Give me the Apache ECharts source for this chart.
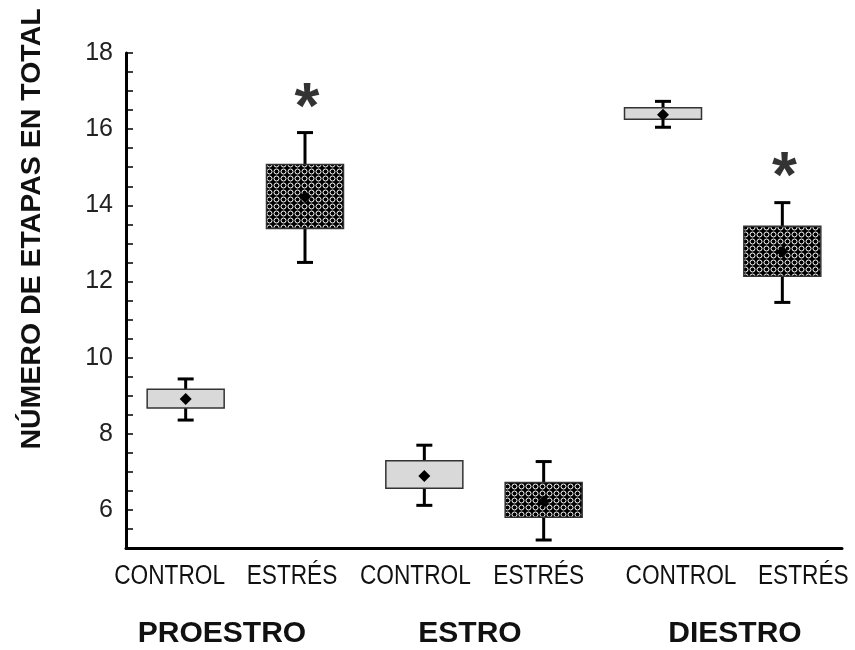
<!DOCTYPE html>
<html>
<head>
<meta charset="utf-8">
<script src="https://cdn.jsdelivr.net/npm/echarts@6/dist/echarts.min.js"></script>
<style>
html,body{margin:0;padding:0;background:#fff;}
#chart{width:855px;height:650px;}
</style>
</head>
<body>
<div id="chart"></div>
<script>
// ---- data ----
const categories = ['CONTROL', 'ESTRÉS', 'CONTROL', 'ESTRÉS', 'CONTROL', 'ESTRÉS'];
const groups = ['PROESTRO', 'ESTRO', 'DIESTRO'];
const whiskerLow  = [8.36, 12.50, 6.12, 5.21, 16.05, 11.45];
const boxLow      = [8.68, 13.39, 6.57, 5.81, 16.26, 12.14];
const means       = [8.91, 14.22, 6.89, 6.22, 16.38, 12.78];
const boxHigh     = [9.17, 15.07, 7.29, 6.72, 16.56, 13.45];
const whiskerHigh = [9.44, 15.91, 7.70, 7.27, 16.73, 14.07];
const asteriskAt  = [null, 16.85, null, null, null, 15.05];
const yTickLabels = [6, 8, 10, 12, 14, 16, 18];
const yTitle = 'NÚMERO DE ETAPAS EN TOTAL';

// ---- styles ----
const labelShift = [-16, -13, -9, -5, 18, 21];   // horizontal nudge of category labels (px)

function makePattern() {
  const c = document.createElement('canvas');
  c.width = 7; c.height = 7;
  const g = c.getContext('2d');
  g.fillStyle = '#000';
  g.fillRect(0, 0, 7, 7);
  g.strokeStyle = '#fff';
  g.lineWidth = 1;
  g.beginPath();
  g.arc(3.5, 3.5, 2.5, 0, Math.PI * 2);
  g.stroke();
  return c;
}
const stressFill = { image: makePattern(), repeat: 'repeat' };
const controlFill = '#d9d9d9';

const boxData = categories.map((c, i) => [i, whiskerLow[i], boxLow[i], means[i], boxHigh[i], whiskerHigh[i]]);
const labelData = categories.map((c, i) => [i, 5]);
const starData = [];
asteriskAt.forEach((v, i) => { if (v != null) starData.push([i, v]); });

function renderBox(params, api) {
  const i = api.value(0);
  const wl = api.coord([i, api.value(1)]);
  const bl = api.coord([i, api.value(2)]);
  const m  = api.coord([i, api.value(3)]);
  const bh = api.coord([i, api.value(4)]);
  const wh = api.coord([i, api.value(5)]);
  const x = wl[0];
  const bw = 77;
  const cap = 16;
  const isStress = i % 2 === 1;
  const lineStyle = { stroke: '#000', lineWidth: 3 };
  const d = 6;
  return {
    type: 'group',
    children: [
      { type: 'line', shape: { x1: x, y1: wl[1], x2: x, y2: wh[1] }, style: lineStyle },
      { type: 'line', shape: { x1: x - cap / 2, y1: wl[1], x2: x + cap / 2, y2: wl[1] }, style: lineStyle },
      { type: 'line', shape: { x1: x - cap / 2, y1: wh[1], x2: x + cap / 2, y2: wh[1] }, style: lineStyle },
      { type: 'rect', shape: { x: x - bw / 2, y: bh[1], width: bw, height: bl[1] - bh[1] },
        style: { fill: isStress ? stressFill : controlFill, stroke: '#333', lineWidth: 1.5 } },
      { type: 'polygon', shape: { points: [[x, m[1] - d], [x + d, m[1]], [x, m[1] + d], [x - d, m[1]]] },
        style: { fill: '#000' } }
    ]
  };
}

function renderLabel(params, api) {
  const i = api.value(0);
  const p = api.coord([i, api.value(1)]);
  return {
    type: 'text',
    x: p[0] + labelShift[i],
    y: p[1] + 29,
    scaleX: 0.84,
    style: { text: categories[i], fontFamily: 'Liberation Sans', fontSize: 27, fill: '#111',
             textAlign: 'center', textVerticalAlign: 'middle' }
  };
}

const chart = echarts.init(document.getElementById('chart'), null, { renderer: 'canvas' });
chart.setOption({
  animation: false,
  backgroundColor: '#fff',
  grid: { left: 126, right: 13, top: 53, bottom: 102 },
  xAxis: {
    type: 'category',
    data: categories,
    boundaryGap: true,
    axisLine: { lineStyle: { color: '#000', width: 3 } },
    axisTick: { inside: true, alignWithLabel: true, length: 6, lineStyle: { color: '#000', width: 1.5 } },
    axisLabel: { show: false },
    splitLine: { show: false }
  },
  yAxis: {
    type: 'value',
    min: 5, max: 18, interval: 0.5,
    axisLine: { show: true, lineStyle: { color: '#000', width: 3 } },
    axisTick: { show: true, inside: true, length: 7, lineStyle: { color: '#000', width: 1.5 } },
    axisLabel: {
      color: '#222', fontFamily: 'Liberation Sans', fontSize: 25, margin: 13,
      formatter: v => (yTickLabels.indexOf(v) >= 0 ? String(v) : '')
    },
    splitLine: { show: false }
  },
  graphic: [
    { type: 'text', x: 32, y: 229, rotation: Math.PI / 2,
      style: { text: yTitle, fontFamily: 'Liberation Sans', fontWeight: 'bold', fontSize: 28.5, fill: '#111', textAlign: 'center', textVerticalAlign: 'middle' } },
    { type: 'text', x: 222, y: 634, style: { text: groups[0], fontFamily: 'Liberation Sans', fontWeight: 'bold', fontSize: 30, fill: '#111', textAlign: 'center', textVerticalAlign: 'middle' } },
    { type: 'text', x: 470, y: 634, style: { text: groups[1], fontFamily: 'Liberation Sans', fontWeight: 'bold', fontSize: 30, fill: '#111', textAlign: 'center', textVerticalAlign: 'middle' } },
    { type: 'text', x: 735, y: 634, style: { text: groups[2], fontFamily: 'Liberation Sans', fontWeight: 'bold', fontSize: 30, fill: '#111', textAlign: 'center', textVerticalAlign: 'middle' } }
  ],
  series: [
    { type: 'custom', renderItem: renderBox, data: boxData, encode: { x: 0, y: [1, 2, 3, 4, 5] }, z: 3 },
    { type: 'custom', renderItem: renderLabel, data: labelData, encode: { x: 0, y: 1 }, z: 3, clip: false },
    { type: 'scatter', data: starData, symbolSize: 0, z: 4,
      label: { show: true, position: 'inside', formatter: '*', fontFamily: 'Liberation Sans', fontWeight: 'bold', fontSize: 64, color: '#000', offset: [2, 14] } }
  ]
});
</script>
</body>
</html>
